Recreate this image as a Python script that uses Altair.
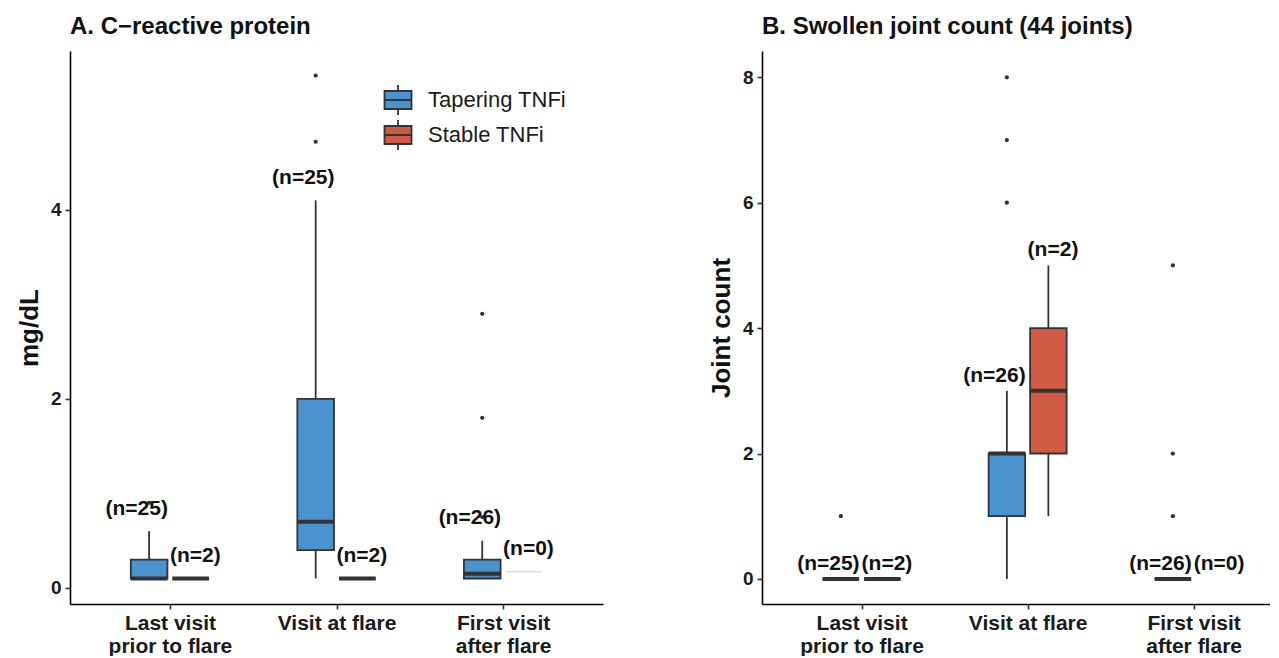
import altair as alt
import pandas as pd

# ---------------- data ----------------
visits = ["Last visit\nprior to flare", "Visit at flare", "First visit\nafter flare"]
groups = ["Tapering TNFi", "Stable TNFi"]
colors = ["#4B92D0", "#D15B45"]

# Panel A: C-reactive protein (mg/dL), box statistics per visit
crp_tap_n = [25, 25, 26]
crp_tap_low = [0.1, 0.1, 0.1]
crp_tap_q1 = [0.1, 0.4, 0.1]
crp_tap_med = [0.1, 0.7, 0.15]
crp_tap_q3 = [0.3, 2.0, 0.3]
crp_tap_high = [0.6, 4.1, 0.5]
crp_tap_out = [[0.9], [4.72, 5.42], [0.75, 1.8, 2.9]]

crp_sta_n = [2, 2, 0]
crp_sta_low = [0.1, 0.1, 0.17]
crp_sta_q1 = [0.1, 0.1, 0.17]
crp_sta_med = [0.1, 0.1, 0.17]
crp_sta_q3 = [0.1, 0.1, 0.17]
crp_sta_high = [0.1, 0.1, 0.17]
crp_sta_out = [[], [], []]

# Panel B: swollen joint count (44 joints)
sjc_tap_n = [25, 26, 26]
sjc_tap_low = [0, 0, 0]
sjc_tap_q1 = [0, 1, 0]
sjc_tap_med = [0, 2, 0]
sjc_tap_q3 = [0, 2, 0]
sjc_tap_high = [0, 3, 0]
sjc_tap_out = [[1], [6, 7, 8], [1, 2, 5]]

sjc_sta_n = [2, 2, 0]
sjc_sta_low = [0, 1, None]
sjc_sta_q1 = [0, 2, None]
sjc_sta_med = [0, 3, None]
sjc_sta_q3 = [0, 4, None]
sjc_sta_high = [0, 5, None]
sjc_sta_out = [[], [], []]

FONT = "Liberation Sans"
INK = "#333333"
dodge = {"Tapering TNFi": -0.125, "Stable TNFi": 0.125}
LABEL_NUDGE = 0.24


def build_frames(series):
    rows, outs = [], []
    for g, (n, lo, q1, md, q3, hi, out) in series.items():
        for i, v in enumerate(visits):
            rows.append(dict(visit=v, group=g, vi=i, xc=i + dodge[g], n=n[i],
                             low=lo[i], q1=q1[i], med=md[i], q3=q3[i], high=hi[i],
                             lab=f"(n={n[i]})",
                             labbase=hi[i] if hi[i] is not None else 0))
            for o in out[i]:
                outs.append(dict(visit=v, group=g, xc=i + dodge[g], value=o))
    return pd.DataFrame(rows), pd.DataFrame(outs)


label_expr = "split([" + ",".join("'" + v.replace("\n", "|") + "'" for v in visits) + "][datum.value], '|')"

axis_common = dict(grid=False, labelFont=FONT, titleFont=FONT, labelFontWeight="bold",
                   titleFontWeight="bold", labelColor="#1a1a1a", titleColor="#111111",
                   domainColor="#000000", domainWidth=1.6, tickColor=INK, tickWidth=1.6,
                   tickSize=5)


def panel(series, ydomain, yticks, ytitle, title, xdomain, width, legend):
    boxes, outs = build_frames(series)
    xs = alt.Scale(domain=xdomain, nice=False, zero=False)
    ys = alt.Scale(domain=ydomain, nice=False, zero=False)
    xaxis = alt.Axis(values=[0, 1, 2], labelExpr=label_expr, title=None,
                     labelFontSize=21, labelLineHeight=23, labelPadding=3, **axis_common)
    yaxis = alt.Axis(values=yticks, title=ytitle, format="d",
                     labelFontSize=19, titleFontSize=26, titlePadding=8, labelPadding=4,
                     **axis_common)
    base = alt.Chart(boxes).transform_calculate(
        xl="datum.xc - 0.11", xr="datum.xc + 0.11", ylab=f"datum.labbase + {LABEL_NUDGE}")
    full = base.transform_filter("datum.n > 0")

    whisk_lo = full.mark_rule(color=INK, strokeWidth=1.8).encode(
        x=alt.X("xc:Q", scale=xs, axis=xaxis),
        y=alt.Y("low:Q", scale=ys, axis=yaxis), y2="q1:Q")
    whisk_hi = full.mark_rule(color=INK, strokeWidth=1.8).encode(
        x="xc:Q", y="q3:Q", y2="high:Q")
    if legend:
        leg = alt.Legend(title=None, orient="none", legendX=312, legendY=33,
                         symbolType="M-0.9,-0.6H0.9V0.6H-0.9Z M-0.9,0H0.9 M0,-1V-0.6 M0,0.6V1",
                         symbolSize=900, symbolStrokeColor=INK, symbolStrokeWidth=1.8,
                         symbolOpacity=1, labelFontSize=22, labelFont=FONT, labelColor="#1a1a1a",
                         labelOffset=14, rowPadding=-3)
    else:
        leg = None
    box = full.mark_rect(stroke=INK, strokeWidth=1.8).encode(
        x="xl:Q", x2="xr:Q", y="q1:Q", y2="q3:Q",
        color=alt.Color("group:N", scale=alt.Scale(domain=groups, range=colors), legend=leg))
    med = full.mark_rule(color=INK, strokeWidth=4).encode(
        x="xl:Q", x2="xr:Q", y="med:Q")
    empty = base.transform_filter("datum.n == 0 && isValid(datum.med)").mark_rule(
        color="#c8c8c8", strokeWidth=1).encode(x="xl:Q", x2="xr:Q", y="med:Q")
    pts = alt.Chart(outs).mark_circle(size=18, color=INK, opacity=1).encode(
        x="xc:Q", y="value:Q")
    lab_style = dict(font=FONT, fontSize=21, fontWeight="bold", color="#111111", baseline="middle")
    lab_tap = base.transform_filter(f"datum.group == '{groups[0]}'").mark_text(
        align="right", dx=-2, **lab_style).encode(x="vi:Q", y="ylab:Q", text="lab:N")
    lab_sta = base.transform_filter(f"datum.group == '{groups[1]}'").mark_text(
        align="left", dx=0, **lab_style).encode(x="vi:Q", y="ylab:Q", text="lab:N")
    return alt.layer(whisk_lo, whisk_hi, box, med, empty, pts, lab_tap, lab_sta).properties(
        width=width, height=553,
        title=alt.TitleParams(title, anchor="start", frame="group", fontSize=24,
                              fontWeight="bold", font=FONT, color="#111111", offset=12))


left = panel({"Tapering TNFi": (crp_tap_n, crp_tap_low, crp_tap_q1, crp_tap_med, crp_tap_q3, crp_tap_high, crp_tap_out),
              "Stable TNFi": (crp_sta_n, crp_sta_low, crp_sta_q1, crp_sta_med, crp_sta_q3, crp_sta_high, crp_sta_out)},
             [-0.17, 5.68], [0, 2, 4], "mg/dL", "A. C\u2212reactive protein", [-0.6, 2.6], 533, True)
right = panel({"Tapering TNFi": (sjc_tap_n, sjc_tap_low, sjc_tap_q1, sjc_tap_med, sjc_tap_q3, sjc_tap_high, sjc_tap_out),
               "Stable TNFi": (sjc_sta_n, sjc_sta_low, sjc_sta_q1, sjc_sta_med, sjc_sta_q3, sjc_sta_high, sjc_sta_out)},
              [-0.4, 8.42], [0, 2, 4, 6, 8], "Joint count", "B. Swollen joint count (44 joints)", [-0.6, 2.46], 508, False)

chart = alt.hconcat(left, right, spacing=105).resolve_legend(color="independent").properties(
    padding={"left": 8, "top": 7, "right": 0, "bottom": 0}
).configure_view(strokeWidth=0, stroke="transparent")

chart.save("out.html", embed_options={"renderer": "svg", "actions": False})
